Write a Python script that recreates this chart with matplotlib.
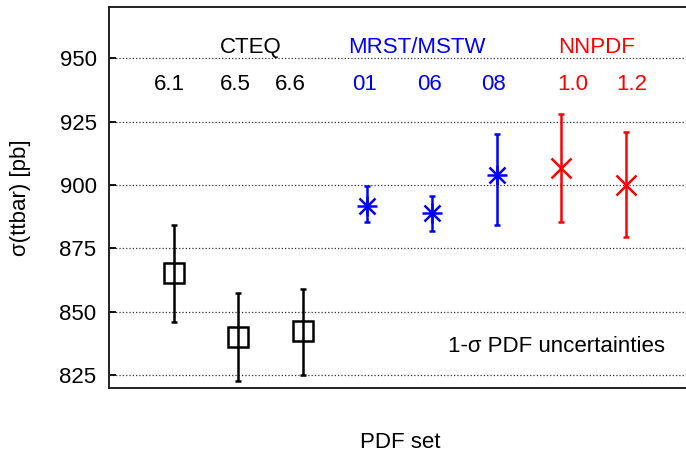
import matplotlib
matplotlib.use('Agg')
import matplotlib.pyplot as plt

plt.rcParams['font.family'] = ['Liberation Sans', 'DejaVu Sans']

# sigma(ttbar) per PDF set, central value and error bar ends [pb]
cteq_x = [1, 2, 3]
cteq_val = [865.5, 840.0, 842.4]
cteq_hi = [884.1, 857.5, 858.9]
cteq_lo = [846.0, 822.9, 825.0]

mrst_x = [4, 5, 6]
mrst_val = [891.8, 888.9, 903.8]
mrst_hi = [899.7, 895.8, 920.3]
mrst_lo = [885.4, 881.7, 884.1]

nnpdf_x = [7, 8]
nnpdf_val = [906.7, 900.1]
nnpdf_hi = [928.2, 920.8]
nnpdf_lo = [885.4, 879.4]

groups = ['CTEQ', 'MRST/MSTW', 'NNPDF']
group_pos = [2.2, 4.76, 7.54]
versions = ['6.1', '6.5', '6.6', '01', '06', '08', '1.0', '1.2']
version_pos = [0.94, 1.95, 2.80, 3.96, 4.96, 5.95, 7.18, 8.09]
version_col = ['black'] * 3 + ['blue'] * 3 + ['red'] * 2
group_col = ['black', 'blue', 'red']

fig = plt.figure(figsize=(6.86, 4.53), dpi=100)
ax = fig.add_axes([0.1589, 0.1435, 0.8477, 0.840])


def errs(v, hi, lo):
    return [[a - b for a, b in zip(v, lo)], [b - a for a, b in zip(v, hi)]]


ax.errorbar(cteq_x, cteq_val, yerr=errs(cteq_val, cteq_hi, cteq_lo), fmt='none',
            ecolor='black', elinewidth=1.8, capsize=2.5, capthick=1.8, zorder=3)
ax.plot(cteq_x, cteq_val, ls='none', marker='s', ms=14, mfc='none',
        mec='black', mew=1.8, zorder=4)

ax.errorbar(mrst_x, mrst_val, yerr=errs(mrst_val, mrst_hi, mrst_lo), fmt='none',
            ecolor='blue', elinewidth=1.8, capsize=2.5, capthick=1.8, zorder=3)
ax.plot(mrst_x, mrst_val, ls='none', marker='+', ms=15, mew=1.8, color='blue', zorder=4)
ax.plot(mrst_x, mrst_val, ls='none', marker='x', ms=11, mew=1.8, color='blue', zorder=4)

ax.errorbar(nnpdf_x, nnpdf_val, yerr=errs(nnpdf_val, nnpdf_hi, nnpdf_lo), fmt='none',
            ecolor='red', elinewidth=1.8, capsize=2.5, capthick=1.8, zorder=3)
ax.plot(nnpdf_x, nnpdf_val, ls='none', marker='x', ms=14, mew=1.8, color='red', zorder=4)

for name, x, c in zip(groups, group_pos, group_col):
    ax.text(x, 954.2, name, color=c, fontsize=16, ha='center', va='center')
for name, x, c in zip(versions, version_pos, version_col):
    ax.text(x, 939.6, name, color=c, fontsize=16, ha='center', va='center')

ax.text(6.92, 836.2, '1-σ PDF uncertainties', fontsize=16, ha='center', va='center')

ax.set_xlim(0, 9)
ax.set_ylim(820, 970)
ax.set_yticks([825, 850, 875, 900, 925, 950])
ax.set_xticks([])
ax.tick_params(axis='y', direction='in', length=5, width=1.3, pad=9, labelsize=16)
ax.yaxis.grid(True, ls=':', color='#333333', lw=0.9)
ax.set_axisbelow(True)
for side in ['left', 'top', 'bottom']:
    ax.spines[side].set_color('#222222')
    ax.spines[side].set_linewidth(1.4)
ax.spines['right'].set_visible(False)

fig.text(21 / 686, 0.564, 'σ(ttbar) [pb]', rotation=90, fontsize=16,
         ha='center', va='center')
fig.text(400 / 686, 1 - 443 / 453, 'PDF set', fontsize=16, ha='center', va='center')

fig.savefig('out.png', dpi=100)
